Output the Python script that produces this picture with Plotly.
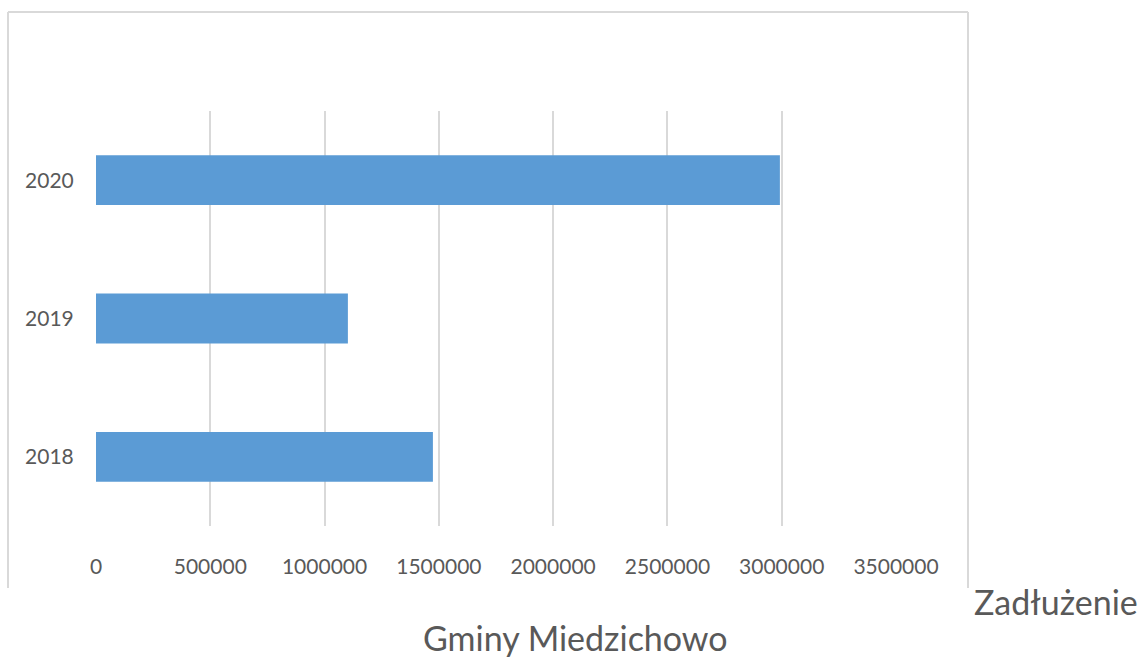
import plotly.graph_objects as go

years = ["2018", "2019", "2020"]
debt = [1474000, 1102000, 2992000]
x_ticks = [0, 500000, 1000000, 1500000, 2000000, 2500000, 3000000, 3500000]
title_line1 = "Zadłużenie"
title_line2 = "Gminy Miedzichowo"

W, H = 1142, 659
L, R, T, B = 96, 896, 111, 526

def px(x):
    return (x - L) / (R - L)

def py(y):
    return (B - y) / (B - T)

FONT = "Lato"
TXT = "#595959"
GRID = "#d9d9d9"

fig = go.Figure(go.Bar(
    x=debt, y=years, orientation="h",
    marker=dict(color="#5B9BD5", line=dict(width=0)),
    width=0.36,
))

fig.update_layout(
    width=W, height=H,
    margin=dict(l=L, r=W - R, t=T, b=H - B, pad=0),
    paper_bgcolor="white", plot_bgcolor="white",
    showlegend=False,
    font=dict(family=FONT, color=TXT, size=21),
    xaxis=dict(
        range=[0, 3500000], tickvals=x_ticks,
        ticktext=[str(v) for v in x_ticks],
        showgrid=True, gridcolor=GRID, gridwidth=2,
        zeroline=False, showline=False,
        ticks="outside", ticklen=22, tickcolor="rgba(0,0,0,0)",
        tickfont=dict(size=21, color=TXT, family=FONT),
    ),
    yaxis=dict(
        categoryorder="array", categoryarray=years,
        range=[-0.5, 2.5],
        showgrid=False, zeroline=False, showline=False,
        ticks="outside", ticklen=17, tickcolor="rgba(0,0,0,0)",
        tickfont=dict(size=21, color=TXT, family=FONT),
    ),
)

# outer chart border (left, top, right)
border = dict(color=GRID, width=2)
x0, x1 = px(8), px(968)
y0, y1 = py(588), py(12)
fig.add_shape(type="line", xref="paper", yref="paper", x0=x0, x1=x0, y0=y0, y1=y1, line=border)
fig.add_shape(type="line", xref="paper", yref="paper", x0=x0, x1=x1, y0=y1, y1=y1, line=border)
fig.add_shape(type="line", xref="paper", yref="paper", x0=x1, x1=x1, y0=y0, y1=y1, line=border)

fig.add_annotation(text=title_line1, xref="paper", yref="paper",
                   x=px(1140), y=py(601), xanchor="right", yanchor="middle",
                   showarrow=False, font=dict(size=34, color=TXT, family=FONT))
fig.add_annotation(text=title_line2, xref="paper", yref="paper",
                   x=px(575), y=py(637), xanchor="center", yanchor="middle",
                   showarrow=False, font=dict(size=34, color=TXT, family=FONT))

fig.write_html("out.html",
               config={"displayModeBar": False},
               post_script="document.body.style.margin='0';document.body.style.overflow='hidden';")
